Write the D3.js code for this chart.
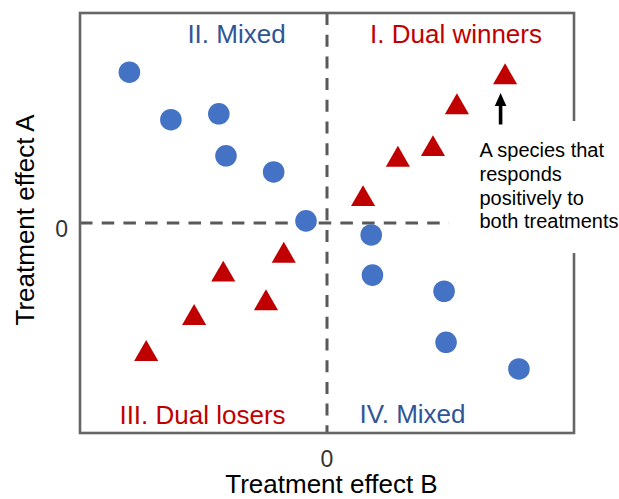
<!DOCTYPE html>
<html>
<head>
<meta charset="utf-8">
<script src="https://cdn.jsdelivr.net/npm/d3@7"></script>
<style>
  html, body { margin: 0; padding: 0; background: #fff; }
  svg { display: block; font-family: "Liberation Sans", Arial, sans-serif; }
</style>
</head>
<body>
<svg id="chart" width="619" height="499"></svg>
<script>
// Species responses (Treatment effect B on x, Treatment effect A on y)
const circleB = [-0.800, -0.632, -0.438, -0.409, -0.216, -0.085, 0.179, 0.184, 0.474, 0.482, 0.777];
const circleA = [0.718, 0.492, 0.520, 0.320, 0.243, 0.010, -0.057, -0.248, -0.325, -0.568, -0.695];
const triangleB = [-0.732, -0.538, -0.420, -0.247, -0.175, 0.146, 0.287, 0.429, 0.526, 0.721];
const triangleA = [-0.624, -0.452, -0.246, -0.382, -0.156, 0.114, 0.301, 0.352, 0.551, 0.694];
const xTicks = [0];
const yTicks = [0];
const quadrantLabels = ["I. Dual winners", "II. Mixed", "III. Dual losers", "IV. Mixed"];
const annotationLines = ["A species that", "responds", "positively to", "both treatments"];

(function () {
const svg = d3.select("#chart");
const L = 80, R = 574, T = 13, B = 433;

const x = d3.scaleLinear().domain([-1, 1]).range([L, R]);
const y = d3.scaleLinear().domain([-1, 1]).range([B, T]);

const frameColor = "#666666";
const dashColor = "#595959";
const red = "#c00000";
const blueMark = "#4472c4";
const blueText = "#2f5597";

// dashed zero lines
svg.append("line")
  .attr("x1", x(-1)).attr("x2", x(1)).attr("y1", y(0)).attr("y2", y(0))
  .attr("stroke", dashColor).attr("stroke-width", 3).attr("stroke-dasharray", "12.5,9.2");
svg.append("line")
  .attr("x1", x(0)).attr("x2", x(0)).attr("y1", y(1)).attr("y2", y(-1))
  .attr("stroke", dashColor).attr("stroke-width", 3).attr("stroke-dasharray", "12,9.7");

// frame
svg.append("rect")
  .attr("x", L).attr("y", T).attr("width", R - L).attr("height", B - T)
  .attr("fill", "none").attr("stroke", frameColor).attr("stroke-width", 2.6);

// circles
const circles = circleB.map((b, i) => ({ b, a: circleA[i] }));
svg.append("g").selectAll("circle").data(circles).join("circle")
  .attr("cx", d => x(d.b)).attr("cy", d => y(d.a)).attr("r", 10.8)
  .attr("fill", blueMark);

// triangles
const tris = triangleB.map((b, i) => ({ b, a: triangleA[i] }));
const triPath = d3.symbol().type(d3.symbolTriangle).size(252)();
svg.append("g").selectAll("path").data(tris).join("path")
  .attr("d", triPath)
  .attr("transform", d => `translate(${x(d.b)},${y(d.a)})`)
  .attr("fill", red);

// white annotation box (covers dashed line end and right border)
svg.append("rect")
  .attr("x", 449).attr("y", 121).attr("width", 170).attr("height", 132)
  .attr("fill", "#fff");

// annotation text
const ann = svg.append("text")
  .attr("x", 479.5).attr("y", 156.7)
  .attr("font-size", 20).attr("fill", "#000");
annotationLines.forEach((t, i) => {
  ann.append("tspan").attr("x", 479.5).attr("dy", i === 0 ? 0 : 23.9).text(t);
});

// arrow pointing at the top dual winner
const topPt = tris[tris.length - 1];
const ax = x(topPt.b) - 4.5;
svg.append("line")
  .attr("x1", ax).attr("x2", ax).attr("y1", 124.5).attr("y2", 103)
  .attr("stroke", "#000").attr("stroke-width", 3.6);
svg.append("path")
  .attr("d", `M${ax - 5.8},106 L${ax},93 L${ax + 5.8},106 Z`)
  .attr("fill", "#000");

// quadrant labels
const qPos = [
  { x: 456, y: 43.3, c: red },
  { x: 236.5, y: 43, c: blueText },
  { x: 202.5, y: 424, c: red },
  { x: 412.5, y: 423.3, c: blueText }
];
quadrantLabels.forEach((t, i) => {
  svg.append("text")
    .attr("x", qPos[i].x).attr("y", qPos[i].y)
    .attr("text-anchor", "middle").attr("font-size", 26)
    .attr("fill", qPos[i].c).text(t);
});

// tick labels
svg.append("g").selectAll("text").data(xTicks).join("text")
  .attr("x", d => x(d)).attr("y", 466.5)
  .attr("text-anchor", "middle").attr("font-size", 23).attr("fill", "#333")
  .text(d => d);
svg.append("g").selectAll("text").data(yTicks).join("text")
  .attr("x", 68)
  .attr("y", d => y(d) + 13.5)
  .attr("text-anchor", "end").attr("font-size", 23).attr("fill", "#333")
  .text(d => d);

// axis titles
svg.append("text")
  .attr("x", 331.5).attr("y", 493)
  .attr("text-anchor", "middle").attr("font-size", 26).attr("fill", "#000")
  .text("Treatment effect B");
svg.append("text")
  .attr("transform", "translate(33.5,220) rotate(-90)")
  .attr("text-anchor", "middle").attr("font-size", 26).attr("fill", "#000")
  .text("Treatment effect A");
})();
</script>
</body>
</html>
